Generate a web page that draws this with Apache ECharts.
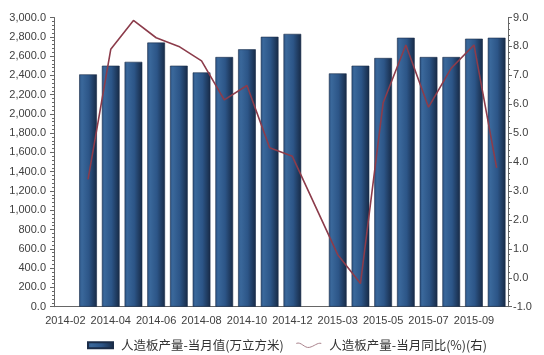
<!DOCTYPE html>
<html>
<head>
<meta charset="utf-8">
<script src="https://cdn.jsdelivr.net/npm/echarts@6/dist/echarts.min.js"></script>
<style>
  html, body { margin: 0; padding: 0; background: #fff; }
  #chart { width: 544px; height: 355px; }
</style>
</head>
<body>
<div id="chart"></div>
<script>
// 月份（2015-01/02 合并，2014-02 与 2015-02 无数据）
const months = [
  '2014-02', '2014-03', '2014-04', '2014-05', '2014-06', '2014-07', '2014-08',
  '2014-09', '2014-10', '2014-11', '2014-12', '2015-02', '2015-03', '2015-04',
  '2015-05', '2015-06', '2015-07', '2015-08', '2015-09', '2015-10'
]
// 当月值(万立方米)
const monthValue = [
  null, 2410, 2500, 2540, 2740, 2500, 2430, 2590, 2670, 2800, 2830,
  null, 2420, 2500, 2580, 2790, 2590, 2590, 2780, 2790
]
// 当月同比(%)
const yoyRate = [
  null, 3.4, 7.9, 8.9, 8.3, 8.0, 7.5, 6.15, 6.65, 4.5, 4.2,
  null, 0.8, -0.2, 6.05, 8.05, 5.9, 7.25, 8.05, 3.8
]

const barName = '人造板产量-当月值(万立方米)'
const lineName = '人造板产量-当月同比(%)(右)'

const axisColor = '#666'
const labelColor = '#404040'
const fontFamily = 'Arial, "Liberation Sans", sans-serif'

const chart = echarts.init(document.getElementById('chart'))

const option = {
  animation: false,
  grid: {
    left: 54,
    right: 36,
    top: 17.5,
    bottom: 48.3
  },
  legend: {
    left: 82,
    top: 334,
    itemWidth: 25,
    itemHeight: 6,
    itemGap: 10,
    textStyle: {
      fontFamily: '"Noto Sans CJK SC", sans-serif',
      fontSize: 12.5,
      color: '#333',
      padding: [0, 0, 0, 3]
    },
    data: [
      { name: barName, icon: 'rect' },
      {
        name: lineName,
        icon: 'path://M0,2 C5,0 8,7 13,6 C18,5 21,1 25,2',
        itemStyle: { color: 'none', borderColor: '#a8808a', borderWidth: 1 }
      }
    ]
  },
  xAxis: {
    type: 'category',
    data: months,
    boundaryGap: true,
    axisLine: { lineStyle: { color: axisColor } },
    axisTick: {
      alignWithLabel: true,
      interval: 0,
      length: 4,
      lineStyle: { color: axisColor }
    },
    axisLabel: {
      interval: 1,
      margin: 9,
      color: labelColor,
      fontFamily,
      fontSize: 11
    },
    splitLine: { show: false }
  },
  yAxis: [
    {
      type: 'value',
      min: 0,
      max: 3000,
      interval: 200,
      position: 'left',
      axisLine: { show: true, lineStyle: { color: axisColor } },
      axisTick: { show: true, length: 4, lineStyle: { color: axisColor } },
      minorTick: { show: true, splitNumber: 5, length: 2, lineStyle: { color: '#666' } },
      axisLabel: {
        margin: 8,
        color: labelColor,
        fontFamily,
        fontSize: 11,
        formatter: v => v.toLocaleString('en-US', { minimumFractionDigits: 1, maximumFractionDigits: 1 })
      },
      splitLine: { show: false }
    },
    {
      type: 'value',
      min: -1,
      max: 9,
      interval: 1,
      position: 'right',
      axisLine: { show: true, lineStyle: { color: axisColor } },
      axisTick: { show: true, length: 4, lineStyle: { color: axisColor } },
      minorTick: { show: true, splitNumber: 5, length: 2, lineStyle: { color: '#666' } },
      axisLabel: {
        margin: 5,
        color: labelColor,
        fontFamily,
        fontSize: 11,
        formatter: v => v.toFixed(1)
      },
      splitLine: { show: false }
    }
  ],
  series: [
    {
      name: barName,
      type: 'bar',
      yAxisIndex: 0,
      barCategoryGap: '22%',
      itemStyle: {
        color: new echarts.graphic.LinearGradient(0, 0, 1, 0, [
          { offset: 0, color: '#2b5282' },
          { offset: 0.15, color: '#3a689b' },
          { offset: 0.55, color: '#2c5587' },
          { offset: 1, color: '#172a46' }
        ]),
        borderColor: '#1a2c48',
        borderWidth: 0.6
      },
      data: monthValue
    },
    {
      name: lineName,
      type: 'line',
      yAxisIndex: 1,
      symbol: 'none',
      connectNulls: true,
      lineStyle: { color: '#8c3c4b', width: 1.6 },
      itemStyle: { color: '#8c3c4b' },
      data: yoyRate
    }
  ]
}

chart.setOption(option)
</script>
</body>
</html>
